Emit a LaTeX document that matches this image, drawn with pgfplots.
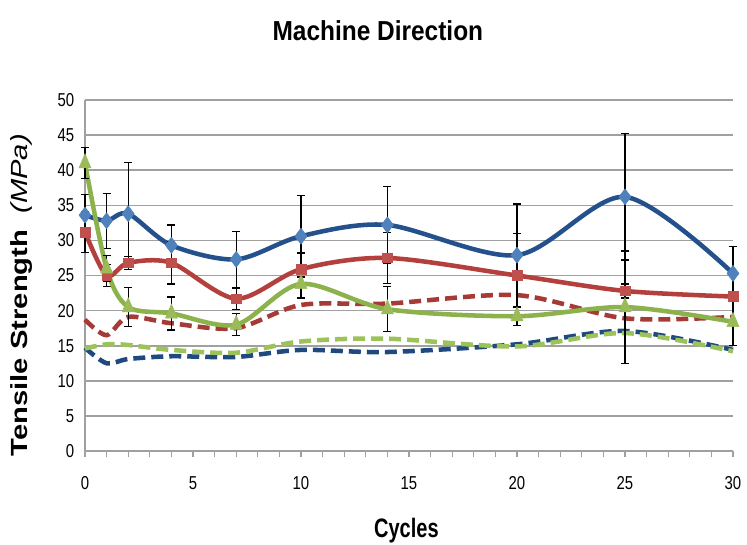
\documentclass[border=0pt]{standalone}
\usepackage{fontspec}
\setmainfont{Liberation Sans}
\newfontfamily\narrowfont[FakeStretch=0.8]{Liberation Sans}
\newfontfamily\titlefont[FakeStretch=0.89]{Liberation Sans}
\newfontfamily\xlabfont[FakeStretch=0.75]{Liberation Sans}
\newfontfamily\widefont[FakeStretch=1.25]{Liberation Sans}
\usepackage{pgfplots}
\pgfplotsset{compat=1.18}
\definecolor{bline}{HTML}{24508C}
\definecolor{bmark}{HTML}{4F81BD}
\definecolor{rline}{HTML}{B4403D}
\definecolor{rmark}{HTML}{C0504D}
\definecolor{gline}{HTML}{8CB24C}
\definecolor{gmark}{HTML}{9BBB59}
\definecolor{rdash}{HTML}{A63A37}
\definecolor{bdash}{HTML}{1F4A80}
\definecolor{gdash}{HTML}{9BC35A}
\definecolor{gridc}{HTML}{A0A0A0}

\pgfplotstableread{
x y e
0 33.6 2.9
1 32.8 3.9
2 33.8 7.3
4 29.3 2.9
7 27.3 4.0
10 30.6 5.8
14 32.2 5.5
20 27.9 7.3
25 36.2 9.0
30 25.3 3.8
}\blue
\pgfplotstableread{
x y e
0 31.2 2.9
1 25.0 1.6
2 26.8 0.9
4 26.8 3.0
7 21.7 1.5
10 25.9 2.3
14 27.5 3.6
20 25.0 6.0
25 22.8 1.0
30 22.0 0.6
}\red
\pgfplotstableread{
x y e
0 41.0 2.2
1 26.0 1.8
2 20.5 2.8
4 19.6 2.35
7 18.0 1.6
10 23.8 2.0
14 20.2 3.2
20 19.2 1.3
25 20.5 8.0
30 18.4 3.4
}\green
\pgfplotstableread{
x y
0 18.7
1 16.5
2 19.1
4 18.2
7 17.5
10 20.8
14 21.0
20 22.2
25 18.9
30 19.1
}\reddash
\pgfplotstableread{
x y
0 14.7
1 12.5
2 13.1
4 13.5
7 13.4
10 14.4
14 14.1
20 15.2
25 17.1
30 14.4
}\bluedash
\pgfplotstableread{
x y
0 14.6
1 15.2
2 15.1
4 14.4
7 14.0
10 15.6
14 16.0
20 14.9
25 16.8
30 14.2
}\greendash

\begin{document}
\begin{tikzpicture}
\path[use as bounding box] (-63.75pt,-69.75pt) rectangle (496.5pt,338.25pt);
\begin{axis}[
  at={(0pt,0pt)}, anchor=south west,
  scale only axis, width=486pt, height=263.25pt,
  xmin=0, xmax=30, ymin=0, ymax=50,
  xtick={0,5,...,30}, ytick={0,5,...,50}, minor x tick num=4,
  axis x line*=bottom, axis y line*=left,
  axis line style={gridc, line width=1.2pt, -},
  ymajorgrids, major grid style={gridc, line width=1.2pt},
  x tick style={gridc, line width=1pt},
  tick align=outside, major tick length=4.5pt, minor tick length=4.5pt,
  y tick style={draw=none},
  tick label style={font=\narrowfont\fontsize{14}{14}\selectfont, black},
  xticklabel style={yshift=-11pt},
  /pgf/number format/assume math mode=true,
  clip=false,
  title={\titlefont\bfseries\fontsize{20.6}{21}\selectfont Machine Direction},
  title style={at={(axis description cs:0.452,1.176)}, anchor=center, yshift=0pt},
  xlabel={\xlabfont\bfseries\fontsize{20}{20}\selectfont Cycles},
  xlabel style={at={(axis description cs:0.496,-0.226)}, anchor=center, yshift=0pt},
  ylabel={\widefont\fontsize{17.5}{18}\selectfont\textbf{Tensile Strength}\ \ \textit{(MPa)}},
  ylabel style={at={(axis description cs:-0.0972,0.444)}, anchor=center},
  every axis plot/.append style={smooth, tension=0.5},
  error bars/error bar style={black, line width=0.9pt, solid},
  error bars/error mark options={rotate=90, black, mark size=3pt, line width=0.9pt, solid},
]
\addplot[rdash, line width=3.4pt, dash pattern=on 9pt off 4.5pt] table[x=x,y=y] {\reddash};
\addplot[bdash, line width=3.4pt, dash pattern=on 9pt off 4.5pt] table[x=x,y=y] {\bluedash};
\addplot[gdash, line width=3.4pt, dash pattern=on 9pt off 4.5pt] table[x=x,y=y] {\greendash};
\addplot[bline, line width=3.4pt, mark=diamond*, mark size=6pt,
  mark options={fill=bmark, draw=bmark, line width=0.4pt, solid},
  error bars/.cd, y dir=both, y explicit] table[x=x,y=y,y error=e] {\blue};
\addplot[rline, line width=3.4pt, mark=square*, mark size=3.6pt,
  mark options={fill=rmark, draw=rmark, line width=0.4pt, solid},
  error bars/.cd, y dir=both, y explicit] table[x=x,y=y,y error=e] {\red};
\addplot[gline, line width=3.4pt, mark=triangle*, mark size=5.2pt,
  mark options={fill=gmark, draw=gmark, line width=0.4pt, solid, yscale=1.35},
  error bars/.cd, y dir=both, y explicit] table[x=x,y=y,y error=e] {\green};
\end{axis}
\end{tikzpicture}
\end{document}
